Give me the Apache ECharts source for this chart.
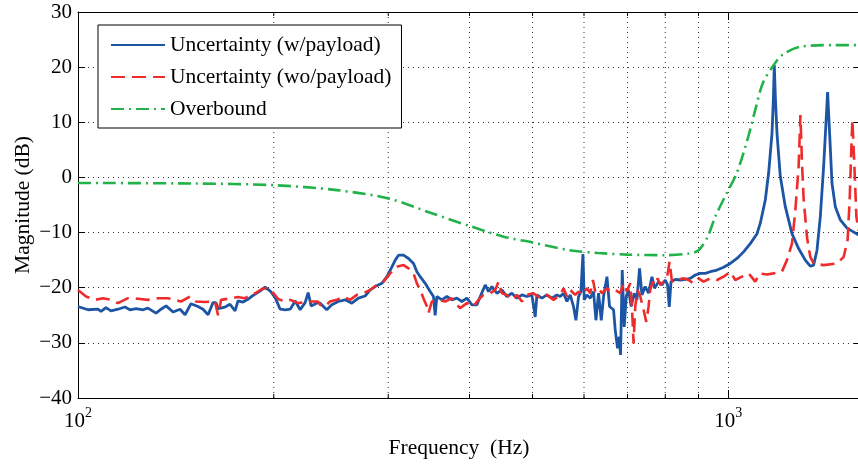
<!DOCTYPE html>
<html><head><meta charset="utf-8">
<script src="https://cdn.jsdelivr.net/npm/echarts@6/dist/echarts.min.js"></script>
<style>html,body{margin:0;padding:0;background:#fff}#c{width:858px;height:464px}</style>
</head><body><div id="c"></div>
<script>
// ---- data (frequency in Hz, magnitude in dB) ----
const seriesNames = ['Uncertainty (w/payload)', 'Uncertainty (wo/payload)', 'Overbound'];
const xTickValues = [100, 1000];
const minorFreqs = [200, 300, 400, 500, 600, 700, 800, 900];
const yTicks = [-40, -30, -20, -10, 0, 10, 20, 30];

const withPayload = [
 [100,-23.4],[103.6,-24.0],[107.3,-23.9],[108.5,-24.3],[110.4,-23.6],[112.4,-24.2],[115.2,-23.9],[118.1,-23.5],
 [120.2,-24.0],[122.8,-23.8],[125.9,-24.0],[128.1,-23.7],[131.8,-24.6],[134.2,-23.9],[136.6,-23.3],[140.0,-24.4],
 [143.5,-23.9],[146.1,-24.9],[149.2,-22.9],[152.9,-23.4],[155.7,-23.9],[158.5,-24.9],[161.3,-22.7],[163.0,-22.7],
 [164.2,-23.8],[168.3,-23.5],[171.3,-23.0],[174.4,-24.2],[176.2,-22.4],[179.4,-22.6],[182.5,-22.1],[185.9,-21.4],
 [190.5,-20.6],[193.9,-19.9],[197.5,-20.6],[201.0,-21.8],[204.6,-23.9],[208.3,-24.0],[212.0,-23.9],[215.8,-22.4],
 [219.6,-24.0],[223.5,-22.7],[225.9,-20.9],[228.3,-23.3],[233.8,-22.7],[235.7,-22.8],[241.3,-24.0],[245.6,-23.1],
 [251.4,-22.5],[257.5,-22.2],[263.7,-22.8],[269.9,-21.9],[276.4,-21.5],[281.4,-20.4],[286.4,-19.8],[293.3,-19.2],
 [298.6,-18.0],[303.9,-16.2],[307.5,-15.0],[311.1,-14.1],[316.7,-14.1],[322.3,-14.7],[328.1,-15.6],[332.0,-17.1],
 [335.9,-18.0],[341.9,-19.2],[348.0,-20.7],[352.1,-21.6],[354.2,-25.0],[356.3,-21.6],[362.7,-22.2],[369.2,-21.6],
 [375.8,-22.2],[382.5,-21.9],[389.4,-22.5],[396.3,-21.9],[403.4,-23.1],[410.7,-23.1],[415.5,-21.6],[422.9,-19.5],
 [427.9,-20.7],[433.1,-19.8],[440.8,-21.0],[448.6,-20.4],[456.6,-21.6],[464.8,-21.0],[473.1,-21.9],[481.6,-21.3],
 [490.2,-21.6],[498.9,-21.3],[504.8,-25.3],[507.8,-21.3],[516.9,-21.9],[526.1,-21.3],[535.5,-21.9],[545.1,-21.3],
 [551.5,-21.6],[558.0,-21.0],[564.8,-22.5],[571.4,-21.3],[578.1,-23.4],[583.1,-25.9],[588.5,-21.6],[593.5,-20.7],
 [597.7,-13.9],[600.5,-22.2],[606.3,-21.3],[613.4,-21.9],[620.6,-20.7],[625.9,-25.9],[631.7,-21.0],[637.8,-25.9],
 [643.0,-21.6],[650.8,-18.0],[656.8,-23.4],[666.2,-24.0],[670.2,-27.7],[675.7,-31.0],[679.8,-28.9],[682.9,-32.2],
 [687.0,-16.8],[691.8,-27.1],[696.8,-21.6],[702.5,-20.4],[709.2,-23.4],[716.8,-21.0],[723.7,-22.2],[730.4,-16.5],
 [736.6,-21.3],[745.3,-19.8],[754.1,-21.0],[763.2,-18.0],[770.3,-20.1],[781.3,-18.9],[790.7,-19.5],[800.0,-18.6],
 [806.6,-19.5],[811.5,-23.5],[816.4,-18.9],[828.9,-18.5],[843.7,-18.6],[858.8,-18.5],[874.1,-18.3],[889.8,-17.7],
 [905.7,-17.4],[921.9,-17.4],[938.4,-17.1],[960.9,-16.8],[983.5,-16.3],[1007.1,-15.6],[1031.3,-14.7],[1055.7,-13.5],
 [1081.1,-12.0],[1107.1,-10.2],[1120.1,-8.3],[1140.1,-4.1],[1153.5,0.75],[1167.5,8.0],[1173,14.0],[1177,20.4],
 [1182,14.0],[1188.3,8.0],[1202.3,0.2],[1223.8,-5.3],[1253.1,-10.2],[1282.8,-12.9],[1313.6,-15.0],[1337.1,-16.1],
 [1352.8,-15.9],[1369.2,-13.2],[1385.3,-7.1],[1401.6,1.9],[1415.0,11.0],[1421.6,15.5],[1431.7,8.0],[1443.9,-1.1],
 [1460.9,-5.3],[1487.0,-7.7],[1522.8,-9.2],[1584.9,-10.4],[1600,-10.6]
];

const withoutPayload = [
 [100,-20.4],[102.9,-21.6],[106.2,-22.2],[109.3,-21.9],[112.4,-22.2],[115.2,-22.8],[119.4,-21.9],[123.7,-22.0],
 [128.1,-22.2],[132.7,-21.9],[137.5,-21.9],[141.0,-22.2],[144.0,-22.5],[148.7,-21.6],[151.8,-22.5],[156.7,-22.6],
 [162.4,-22.5],[164.2,-25.0],[166.0,-22.2],[170.2,-22.0],[176.2,-21.7],[180.5,-21.9],[187.3,-21.0],[192.6,-20.1],
 [197.5,-20.3],[203.4,-22.1],[208.3,-22.5],[212.0,-22.2],[218.0,-22.8],[225.9,-22.5],[233.8,-22.5],[235.7,-23.1],
 [239.9,-23.4],[244.1,-22.5],[250.0,-22.2],[256.0,-21.6],[262.1,-22.2],[268.4,-21.3],[274.8,-21.0],[281.4,-20.4],
 [288.1,-19.5],[295.0,-18.9],[302.0,-17.4],[309.3,-16.2],[316.7,-15.9],[322.3,-16.5],[328.1,-17.4],[332.0,-19.2],
 [335.9,-20.4],[339.8,-21.9],[344.0,-23.4],[345.9,-24.6],[350.1,-22.5],[358.4,-22.2],[367.0,-22.5],[375.8,-21.9],
 [382.5,-23.1],[387.0,-23.7],[396.3,-22.8],[405.7,-23.4],[412.9,-22.2],[420.3,-21.3],[430.4,-21.0],[438.1,-20.4],
 [443.3,-18.9],[448.6,-21.0],[456.6,-21.3],[464.8,-22.2],[473.1,-21.3],[481.6,-22.5],[490.2,-21.3],[501.7,-21.0],
 [513.8,-21.9],[526.1,-21.3],[538.5,-22.2],[551.5,-21.3],[558.0,-20.1],[564.8,-21.6],[571.4,-20.4],[581.6,-21.3],
 [588.5,-20.7],[595.6,-21.3],[606.3,-20.1],[613.4,-21.0],[619.3,-18.6],[624.3,-20.7],[631.7,-20.1],[639.4,-21.0],
 [650.8,-20.1],[658.2,-20.7],[670.2,-20.4],[682.2,-21.0],[690.2,-19.2],[698.5,-20.7],[706.7,-19.2],[711.0,-23.4],
 [715.1,-30.1],[719.4,-23.4],[725.3,-20.4],[732.3,-21.6],[740.9,-24.0],[748.0,-26.2],[754.1,-23.4],[758.6,-20.4],
 [765.9,-18.9],[772.2,-19.5],[778.5,-18.3],[786.0,-19.5],[795.2,-18.9],[804.8,-18.3],[812.3,-15.3],[819.2,-18.9],
 [833.9,-18.6],[853.6,-18.3],[868.9,-18.6],[884.5,-19.2],[900.3,-18.3],[916.2,-18.9],[938.4,-18.3],[960.9,-18.6],
 [983.5,-18.0],[1007.1,-17.1],[1025.1,-18.6],[1049.7,-18.0],[1074.6,-17.4],[1100.5,-18.9],[1117.3,-17.4],[1147,-17.6],
 [1174,-17.4],[1209,-17.1],[1231,-15.0],[1253,-12.0],[1268,-6.0],[1283,2.0],[1291,11.3],[1299,2.0],
 [1306,-4.0],[1322,-11.0],[1337,-14.4],[1353,-15.6],[1402,-15.9],[1470,-15.6],[1505,-14.4],[1526,-11.3],
 [1537,-4.1],[1546,5.0],[1552,10.4],[1563,2.0],[1574,-7.1],[1585,-9.5],[1600,-10.0]
];

const overbound = [
 [100,-1.0],[150,-1.1],[200,-1.4],[250,-2.3],[300,-3.8],[350,-6.5],[400,-8.8],[450,-10.7],[500,-11.8],
 [570,-13.2],[630,-13.7],[700,-14.0],[800,-14.1],[870,-13.8],[900,-13.2],[930,-10.7],[955,-7.1],[1000,-2.3],
 [1030,0.7],[1070,6.8],[1100,12.2],[1130,17.1],[1175,20.4],[1210,22.2],[1290,23.7],[1450,24.0],[1600,24.0]
];

const colors = ['#1d55a5', '#ee2c2c', '#22b24a'];
const FONT = '"Liberation Serif", "Times New Roman", serif';
const X_MIN = 100, X_MAX = 1600, Y_MIN = -40, Y_MAX = 30;

const chart = echarts.init(document.getElementById('c'), null, {renderer: 'canvas'});

function xLabel(v) {
  for (const t of xTickValues) {
    if (Math.abs(v - t) < 1e-6 * t) {
      return '{b|10}{s|' + Math.round(Math.log10(t)) + '}';
    }
  }
  return '';
}
function yLabel(v) { return v < 0 ? '\u2212' + Math.abs(v) : String(v); }

const dotted = {color: '#333', width: 1, type: [1, 4]};

chart.setOption({
  animation: false,
  backgroundColor: '#fff',
  grid: {left: 78, top: 12, width: 783, height: 386, containLabel: false, outerBoundsMode: 'none'},
  legend: {
    data: seriesNames,
    orient: 'vertical',
    left: 98, top: 25,
    padding: [8, 10, 7, 12],
    itemWidth: 54, itemHeight: 14, itemGap: 8,
    backgroundColor: '#fff',
    borderColor: '#000', borderWidth: 1, borderRadius: 0,
    itemStyle: {color: 'rgba(0,0,0,0)', borderWidth: 0, opacity: 0},
    textStyle: {fontFamily: FONT, fontSize: 21.5, color: '#000', lineHeight: 24}
  },
  xAxis: [{
    type: 'log', logBase: 10, min: X_MIN, max: X_MAX, position: 'bottom',
    name: 'Frequency  (Hz)', nameLocation: 'middle', nameGap: 35,
    nameTextStyle: {fontFamily: FONT, fontSize: 21.5, color: '#000', padding: [0, 21, 0, 0]},
    axisLine: {show: true, onZero: false, lineStyle: {color: '#000', width: 1}},
    axisTick: {show: true, inside: true, length: 8, lineStyle: {color: '#000'}},
    minorTick: {show: false},
    splitLine: {show: true, lineStyle: dotted},
    axisLabel: {
      formatter: xLabel, margin: 8, color: '#000',
      rich: {
        b: {fontFamily: FONT, fontSize: 21, color: '#000', lineHeight: 26, verticalAlign: 'bottom'},
        s: {fontFamily: FONT, fontSize: 14, color: '#000', lineHeight: 14, verticalAlign: 'top'}
      }
    }
  }, {
    type: 'log', logBase: 10, min: X_MIN, max: X_MAX, position: 'top',
    axisLine: {show: true, onZero: false, lineStyle: {color: '#000', width: 1}},
    axisTick: {show: true, inside: true, length: 8, lineStyle: {color: '#000'}},
    axisLabel: {show: false}, splitLine: {show: false}
  }],
  yAxis: [{
    type: 'value', min: Y_MIN, max: Y_MAX, interval: 10, position: 'left',
    name: 'Magnitude (dB)', nameLocation: 'middle', nameGap: 44, nameMoveOverlap: false,
    nameTextStyle: {fontFamily: FONT, fontSize: 21.5, color: '#000'},
    axisLine: {show: true, onZero: false, lineStyle: {color: '#000', width: 1}},
    axisTick: {show: true, inside: true, length: 7, lineStyle: {color: '#000'}},
    splitLine: {show: true, lineStyle: dotted},
    axisLabel: {formatter: yLabel, fontFamily: FONT, fontSize: 21, color: '#000', margin: 6}
  }, {
    type: 'value', min: Y_MIN, max: Y_MAX, interval: 10, position: 'right',
    axisLine: {show: true, onZero: false, lineStyle: {color: '#000', width: 1}},
    axisTick: {show: true, inside: true, length: 7, lineStyle: {color: '#000'}},
    axisLabel: {show: false}, splitLine: {show: false}
  }],
  series: [
    {
      type: 'custom', name: 'minor', z: 1, silent: true, clip: false,
      xAxisIndex: 0, yAxisIndex: 0,
      data: minorFreqs.map(f => [f, 0]),
      renderItem: function (params, api) {
        const f = api.value(0);
        const b = api.coord([f, Y_MIN]);
        const t = api.coord([f, Y_MAX]);
        return {type: 'group', children: [
          {type: 'line', shape: {x1: b[0], y1: b[1], x2: t[0], y2: t[1]},
           style: {stroke: '#333', lineWidth: 1, lineDash: [1, 4]}},
          {type: 'line', shape: {x1: b[0], y1: b[1], x2: b[0], y2: b[1] - 4},
           style: {stroke: '#000', lineWidth: 1}},
          {type: 'line', shape: {x1: t[0], y1: t[1], x2: t[0], y2: t[1] + 4},
           style: {stroke: '#000', lineWidth: 1}}
        ]};
      }
    },
    {
      type: 'line', name: seriesNames[0], data: withPayload, showSymbol: false, symbol: 'none',
      xAxisIndex: 0, yAxisIndex: 0,
      lineStyle: {color: colors[0], width: 2.8, type: 'solid'}, itemStyle: {color: colors[0]}
    },
    {
      type: 'line', name: seriesNames[1], data: withoutPayload, showSymbol: false, symbol: 'none',
      xAxisIndex: 0, yAxisIndex: 0,
      lineStyle: {color: colors[1], width: 2.6, type: [14, 7]}, itemStyle: {color: colors[1]}
    },
    {
      type: 'line', name: seriesNames[2], data: overbound, showSymbol: false, symbol: 'none', smooth: 0.3,
      xAxisIndex: 0, yAxisIndex: 0,
      lineStyle: {color: colors[2], width: 2.6, type: [13, 5, 2, 5]}, itemStyle: {color: colors[2]}
    }
  ]
});
</script>
</body></html>
